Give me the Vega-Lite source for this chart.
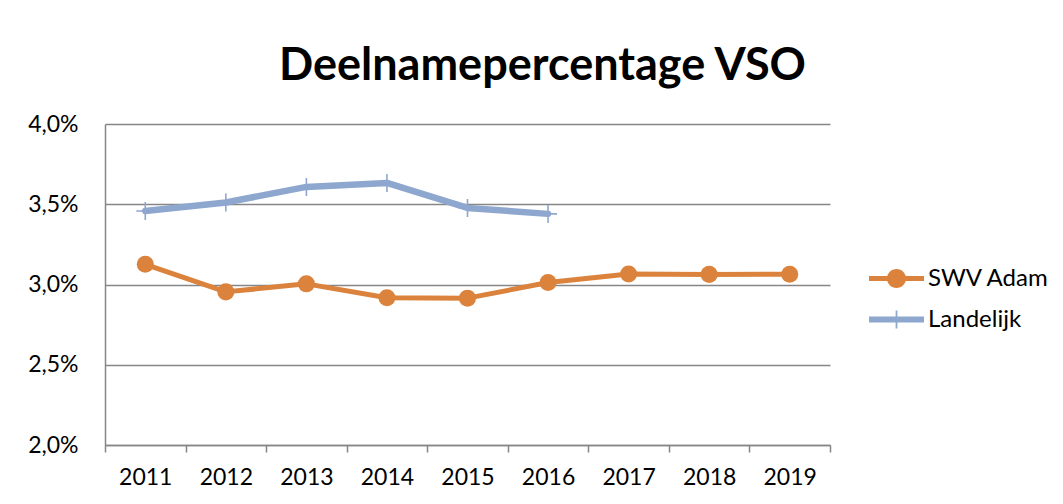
{
  "$schema": "https://vega.github.io/schema/vega-lite/v6.json",
  "width": 725,
  "height": 321,
  "autosize": {"type": "none"},
  "padding": {"left": 105, "top": 124, "right": 233, "bottom": 59},
  "background": "white",
  "title": {
    "text": "Deelnamepercentage VSO",
    "font": "Lato",
    "fontSize": 45,
    "fontWeight": "bold",
    "color": "black",
    "anchor": "middle",
    "frame": "group",
    "dx": 75,
    "offset": 24
  },
  "config": {
    "font": "Lato",
    "view": {"stroke": null},
    "axis": {
      "labelFont": "Lato",
      "labelFontSize": 23,
      "labelColor": "black",
      "domainColor": "#868686",
      "domainWidth": 1.5,
      "gridColor": "#868686",
      "gridWidth": 1.5,
      "tickColor": "#868686",
      "tickWidth": 1.5,
      "title": null
    }
  },
  "data": {
    "values": [
      {"year": "2011", "series": "SWV Adam", "value": 3.126},
      {"year": "2012", "series": "SWV Adam", "value": 2.954},
      {"year": "2013", "series": "SWV Adam", "value": 3.004},
      {"year": "2014", "series": "SWV Adam", "value": 2.918},
      {"year": "2015", "series": "SWV Adam", "value": 2.915},
      {"year": "2016", "series": "SWV Adam", "value": 3.012},
      {"year": "2017", "series": "SWV Adam", "value": 3.065},
      {"year": "2018", "series": "SWV Adam", "value": 3.063},
      {"year": "2019", "series": "SWV Adam", "value": 3.064},
      {"year": "2011", "series": "Landelijk", "value": 3.458},
      {"year": "2012", "series": "Landelijk", "value": 3.511},
      {"year": "2013", "series": "Landelijk", "value": 3.608},
      {"year": "2014", "series": "Landelijk", "value": 3.633},
      {"year": "2015", "series": "Landelijk", "value": 3.477},
      {"year": "2016", "series": "Landelijk", "value": 3.44}
    ]
  },
  "encoding": {
    "x": {
      "field": "year",
      "type": "ordinal",
      "bandPosition": 0.5,
      "scale": {"type": "band", "paddingInner": 0, "paddingOuter": 0},
      "axis": {
        "labelAngle": 0,
        "tickBand": "extent",
        "tickSize": 7,
        "labelPadding": 14,
        "grid": false
      }
    },
    "y": {
      "field": "value",
      "type": "quantitative",
      "scale": {"domain": [2, 4], "nice": false, "zero": false},
      "axis": {
        "values": [2, 2.5, 3, 3.5, 4],
        "labelExpr": "replace(format(datum.value, '.1f'), '.', ',') + '%'",
        "tickSize": 0,
        "labelPadding": 27,
        "grid": true
      }
    }
  },
  "layer": [
    {
      "mark": {"type": "line", "strokeCap": "round", "strokeJoin": "round"},
      "encoding": {
        "color": {
          "field": "series",
          "type": "nominal",
          "scale": {"domain": ["SWV Adam", "Landelijk"], "range": ["#DB833C", "#8EA7CF"]},
          "legend": {
            "title": null,
            "orient": "none",
            "legendX": 763,
            "legendY": 127,
            "padding": 0,
            "rowPadding": 0,
            "symbolSize": 2500,
            "symbolStrokeWidth": 0,
            "labelFont": "Lato",
            "labelFontSize": 24,
            "labelColor": "black",
            "labelOffset": 3,
            "encode": {
              "symbols": {
                "update": {
                  "shape": {"signal": "datum.value === 'SWV Adam' ? 'M-1.1,-0.1H1.1V0.1H-1.1Z M-0.38,0A0.38,0.38 0 1,1 0.38,0A0.38,0.38 0 1,1 -0.38,0Z' : 'M-1.1,-0.12H1.1V0.12H-1.1Z M-0.035,-0.36H0.035V0.36H-0.035Z'"},
                  "fill": {"signal": "scale('color', datum.value)"},
                  "fillOpacity": {"value": 1},
                  "stroke": {"value": "transparent"},
                  "strokeOpacity": {"value": 0},
                  "strokeWidth": {"value": 0}
                }
              }
            }
          }
        },
        "strokeWidth": {
          "field": "series",
          "type": "nominal",
          "scale": {"domain": ["SWV Adam", "Landelijk"], "range": [5, 6.5]},
          "legend": null
        }
      }
    },
    {
      "transform": [{"filter": "datum.series === 'SWV Adam'"}],
      "mark": {"type": "circle", "size": 290, "color": "#DB833C", "opacity": 1}
    },
    {
      "transform": [{"filter": "datum.series === 'Landelijk'"}],
      "mark": {
        "type": "point",
        "shape": "M-1,0H1M0,-1V1",
        "size": 324,
        "filled": false,
        "stroke": "#8EA7CF",
        "strokeWidth": 1.6,
        "opacity": 1
      }
    }
  ]
}
